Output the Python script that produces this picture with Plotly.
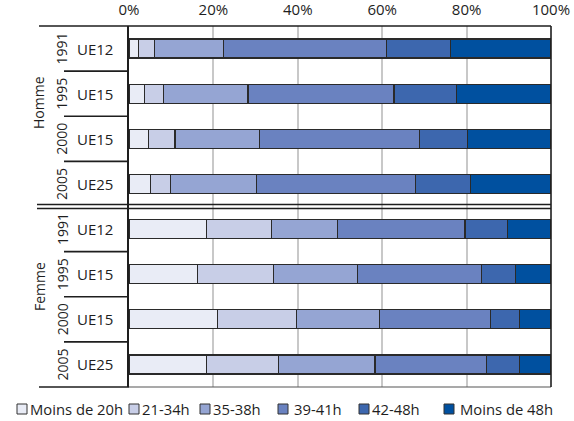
import plotly.graph_objects as go

# Rows, top to bottom: four survey years for men, then for women
sexes = ["Homme", "Femme"]
years = ["1991", "1995", "2000", "2005", "1991", "1995", "2000", "2005"]
zones = ["UE12", "UE15", "UE15", "UE25", "UE12", "UE15", "UE15", "UE25"]

# Weekly hours bands (share of workers, %)
bands = ["Moins de 20h", "21-34h", "35-38h", "39-41h", "42-48h", "Moins de 48h"]
moins_20h = [2.2, 3.6, 4.7, 5.1, 18.3, 16.3, 20.9, 18.3]
h21_34 = [3.9, 4.6, 6.2, 4.8, 15.5, 17.9, 18.7, 17.2]
h35_38 = [16.2, 20.0, 20.0, 20.3, 15.6, 19.9, 19.7, 22.8]
h39_41 = [38.8, 34.6, 37.9, 37.6, 30.2, 29.4, 26.3, 26.5]
h42_48 = [15.0, 14.9, 11.5, 13.2, 10.0, 8.0, 7.0, 7.7]
plus_48 = [23.9, 22.3, 19.7, 19.0, 10.4, 8.5, 7.4, 7.5]

x_ticks = [0, 20, 40, 60, 80, 100]

series = [moins_20h, h21_34, h35_38, h39_41, h42_48, plus_48]
colors = ["#e9ecf6", "#c8cee7", "#95a5d3", "#6a82c0", "#3d67ae", "#00509f"]
FONT = "Open Sans"
INK = "#1e1e1e"

rows = list(range(len(years)))
n = len(rows)

fig = go.Figure()
for name, vals, col in zip(bands, series, colors):
    fig.add_trace(go.Bar(
        x=vals, y=rows, orientation="h", name=name, width=0.42,
        marker=dict(color=col, line=dict(color="#2a2a2a", width=1.2)),
        showlegend=False,
    ))

# paper helpers (plot area: x 129..551 px, y 26..387 px)
L, R, T, B = 129, 551, 26, 387
def px(xp):
    return (xp - L) / (R - L)
def py(yp):
    return (B - yp) / (B - T)
def row_edge(i):
    # paper y of the boundary just below row i
    return 1 - (i + 1) / n

shapes = []
line_dark = dict(color=INK, width=1.6)
# top and bottom frame, extended under the row labels
shapes.append(dict(type="line", xref="paper", yref="paper", x0=px(39), x1=1, y0=1, y1=1, line=line_dark))
shapes.append(dict(type="line", xref="paper", yref="paper", x0=px(39), x1=0, y0=0, y1=0, line=line_dark))
shapes.append(dict(type="line", xref="paper", yref="paper", x0=0, x1=1, y0=0, y1=0, line=dict(color="#555555", width=1.2)))
# right frame
shapes.append(dict(type="line", xref="paper", yref="paper", x0=1, x1=1, y0=0, y1=1, line=line_dark))
# separators between years inside each group
for i in [0, 1, 2, 4, 5, 6]:
    y = row_edge(i)
    shapes.append(dict(type="line", xref="paper", yref="paper", x0=px(64), x1=0, y0=y, y1=y, line=line_dark))
# double rule between the two groups
for dy in (0.0055, -0.0055):
    y = row_edge(3) + dy
    shapes.append(dict(type="line", xref="paper", yref="paper", x0=px(37), x1=1, y0=y, y1=y, line=dict(color=INK, width=1.5)))

# legend drawn as swatches and labels along the bottom
legend_x = [17, 129, 200, 278, 359, 444]
legend_pad = [11, 11, 11, 14, 11, 14]
legend_y = 409
annotations = []
for bx, pad, name, col in zip(legend_x, legend_pad, bands, colors):
    shapes.append(dict(type="rect", xref="paper", yref="paper",
                       x0=px(bx), x1=px(bx + 10), y0=py(legend_y + 5), y1=py(legend_y - 5),
                       fillcolor=col, line=dict(color="#333333", width=1)))
    annotations.append(dict(xref="paper", yref="paper", x=px(bx + pad), y=py(legend_y),
                            text=name, showarrow=False, xanchor="left", yanchor="middle",
                            font=dict(family=FONT, size=14.8, color=INK)))

# row labels: zone, rotated year, rotated group name
for r, (yr, zn) in enumerate(zip(years, zones)):
    annotations.append(dict(xref="paper", yref="y", x=px(95), y=r, text=zn, showarrow=False,
                            xanchor="center", yanchor="middle",
                            font=dict(family=FONT, size=15, color=INK)))
    annotations.append(dict(xref="paper", yref="y", x=px(62), y=r, text=yr, showarrow=False,
                            textangle=-90, xanchor="center", yanchor="middle",
                            font=dict(family=FONT, size=14, color=INK)))
for name, ypx in zip(sexes, [103, 287]):
    annotations.append(dict(xref="paper", yref="paper", x=px(39), y=py(ypx), text=name, showarrow=False,
                            textangle=-90, xanchor="center", yanchor="middle",
                            font=dict(family=FONT, size=14, color=INK)))

fig.update_layout(
    barmode="stack",
    width=574, height=421,
    margin=dict(l=L, r=574 - R, t=T, b=421 - B, pad=0, autoexpand=False),
    paper_bgcolor="white", plot_bgcolor="white",
    font=dict(family=FONT, size=15, color=INK),
    shapes=shapes, annotations=annotations,
    xaxis=dict(side="top", range=[0, 100], tickvals=x_ticks, ticktext=[f"{v}%" for v in x_ticks],
               showgrid=True, gridcolor="#c8c8c8", gridwidth=1.5, zeroline=False,
               ticks="", showline=False, fixedrange=True, automargin=False,
               ticklabelstandoff=7,
               tickfont=dict(family=FONT, size=15, color=INK)),
    yaxis=dict(range=[n - 0.5, -0.5], showticklabels=False, showgrid=False, zeroline=False,
               ticks="", showline=True, linecolor=INK, linewidth=1.6, fixedrange=True,
               automargin=False),
)

fig.write_html("out.html")
